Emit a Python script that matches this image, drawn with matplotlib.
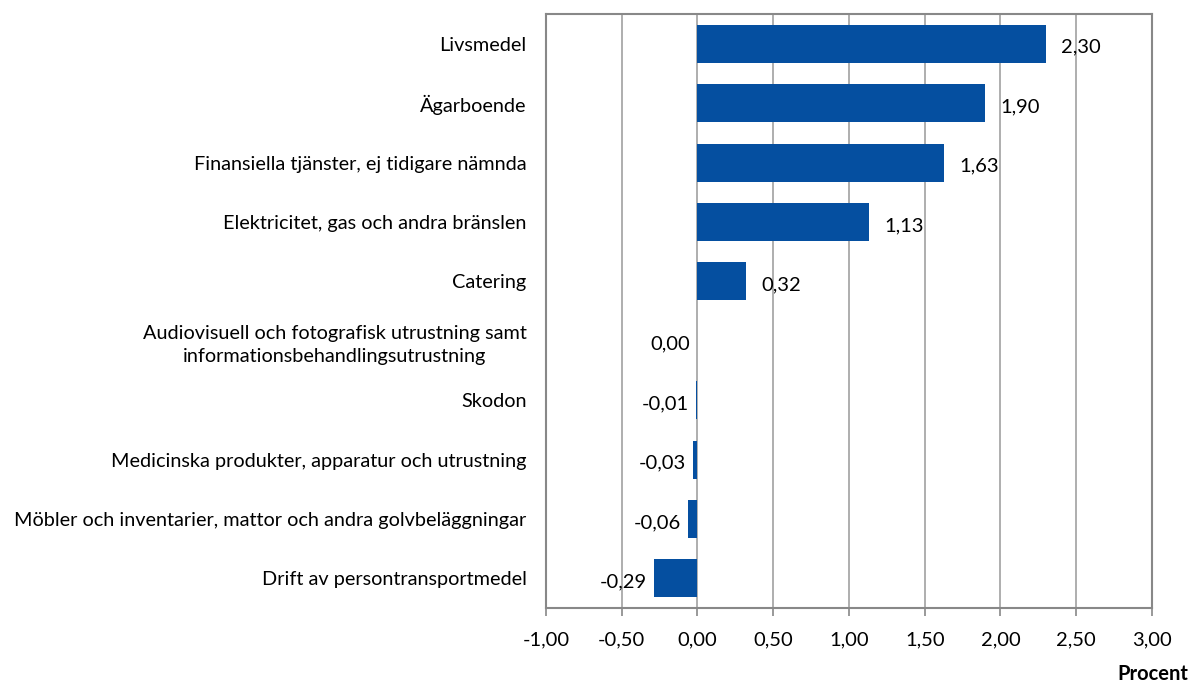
import numpy as np
import matplotlib
matplotlib.use('Agg')
import matplotlib.pyplot as plt

plt.rcParams['font.family'] = ['Lato', 'DejaVu Sans']

# categories top to bottom
categories = ['Livsmedel',
              'Ägarboende',
              'Finansiella tjänster, ej tidigare nämnda',
              'Elektricitet, gas och andra bränslen',
              'Catering',
              'Audiovisuell och fotografisk utrustning samt\ninformationsbehandlingsutrustning',
              'Skodon',
              'Medicinska produkter, apparatur och utrustning',
              'Möbler och inventarier, mattor och andra golvbeläggningar',
              'Drift av persontransportmedel']
values = [2.30, 1.90, 1.63, 1.13, 0.32, 0.00, -0.01, -0.03, -0.06, -0.29]
xticks = [-1.0, -0.5, 0.0, 0.5, 1.0, 1.5, 2.0, 2.5, 3.0]

def sv(v):
    return f'{v:.2f}'.replace('.', ',')

fig = plt.figure(figsize=(11.92, 6.9), dpi=100)
ax = fig.add_axes([0.458, 0.1188, 0.5084, 0.8609])

y = np.arange(len(categories))
ax.barh(y, values, height=0.64, color='#054FA0', zorder=3)
ax.set_ylim(len(categories) - 0.5, -0.5)
ax.set_xlim(-1, 3)
ax.set_xticks(xticks)
ax.set_xticklabels([sv(t) for t in xticks], fontsize=14.5)
ax.set_yticks(y)
ax.set_yticklabels(categories, fontsize=14.3, linespacing=1.4)
for lab in ax.get_yticklabels():
    lab.set_multialignment('center')
ax.tick_params(axis='y', length=0, pad=14)
ax.tick_params(axis='x', length=6, width=1.2, color='#888888', pad=11)

ax.grid(axis='x', color='#999999', linewidth=1.1, zorder=0)
for s in ax.spines.values():
    s.set_color('#888888')
    s.set_linewidth(1.5)

for yi, v in zip(y, values):
    if v > 0:
        ax.annotate(sv(v), (v, yi), xytext=(11, -2.5), textcoords='offset points',
                    ha='left', va='center', fontsize=14.5)
    else:
        ax.annotate(sv(v), (v, yi), xytext=(-5, -2.5), textcoords='offset points',
                    ha='right', va='center', fontsize=14.5)

fig.text(0.997, 0.008, 'Procent', ha='right', va='bottom', fontsize=14.5, fontweight='bold')

fig.savefig('out.png', dpi=100)
